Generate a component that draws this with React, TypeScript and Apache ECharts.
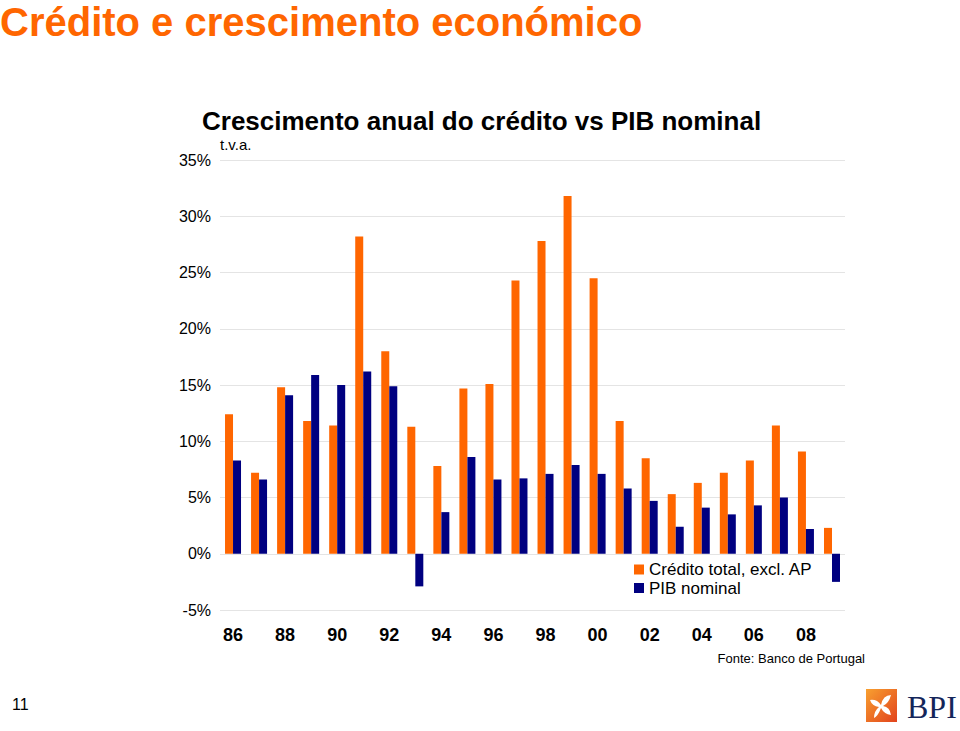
import React, { useEffect, useRef } from 'react';
import * as echarts from 'echarts';

const years = ['86', '87', '88', '89', '90', '91', '92', '93', '94', '95', '96', '97', '98', '99', '00', '01', '02', '03', '04', '05', '06', '07', '08', '09'];
const credito = [12.4, 7.2, 14.8, 11.8, 11.4, 28.2, 18.0, 11.3, 7.8, 14.7, 15.1, 24.3, 27.8, 31.8, 24.5, 11.8, 8.5, 5.3, 6.3, 7.2, 8.3, 11.4, 9.1, 2.3];
const pib = [8.3, 6.6, 14.1, 15.9, 15.0, 16.2, 14.9, -2.9, 3.7, 8.6, 6.6, 6.7, 7.1, 7.9, 7.1, 5.8, 4.7, 2.4, 4.1, 3.5, 4.3, 5.0, 2.2, -2.5];
const seriesNames = ['Crédito total, excl. AP', 'PIB nominal'];
const titleText = 'Crédito e crescimento económico';
const subtitleText = 'Crescimento anual do crédito vs PIB nominal';
const unitText = 't.v.a.';
const sourceText = 'Fonte: Banco de Portugal';
const pageText = '11';

const FLOWER =
  'M15 16 Q17 6 25 6 Q23 14 17 17 Q24 18 25 26 Q18 25 15 19 Q12 27 8 29 Q8 22 13 18 Q6 17 4 11 Q11 10 15 16 Z';

let registered = false;
function registerShapes() {
  if (registered) return;
  registered = true;
  echarts.graphic.registerShape('bpiFlower', echarts.graphic.extendPath(FLOWER, {}) as any);
}

export default function App() {
  const ref = useRef<HTMLDivElement>(null);

  useEffect(() => {
    if (!ref.current) return;
    registerShapes();
    const chart = echarts.init(ref.current, undefined, { renderer: 'svg' });
    const font = '"Liberation Sans", Arial, sans-serif';
    chart.setOption({
      animation: false,
      backgroundColor: '#ffffff',
      textStyle: { fontFamily: font },
      grid: { left: 220, right: 115, top: 160, bottom: 121 },
      legend: {
        orient: 'vertical',
        left: 634,
        top: 561,
        padding: 0,
        itemGap: 1.5,
        itemWidth: 10,
        itemHeight: 10,
        icon: 'rect',
        textStyle: { fontSize: 17, color: '#000', fontFamily: font, lineHeight: 17 },
        data: seriesNames,
      },
      xAxis: {
        type: 'category',
        data: years,
        boundaryGap: true,
        axisLine: { show: false, onZero: false },
        axisTick: { show: false },
        splitLine: { show: false },
        axisLabel: {
          interval: 1,
          fontSize: 18,
          fontWeight: 'bold',
          color: '#000',
          margin: 16,
          fontFamily: font,
        },
      },
      yAxis: {
        type: 'value',
        min: -5,
        max: 35,
        interval: 5,
        axisLine: { show: false },
        axisTick: { show: false },
        splitLine: { show: true, lineStyle: { color: '#e4e4e4', width: 1 } },
        axisLabel: {
          formatter: '{value}%',
          fontSize: 16,
          color: '#000',
          margin: 9,
          fontFamily: font,
        },
      },
      series: [
        {
          name: seriesNames[0],
          type: 'bar',
          data: credito,
          barWidth: 8,
          barGap: '0%',
          itemStyle: { color: '#FF6600' },
        },
        {
          name: seriesNames[1],
          type: 'bar',
          data: pib,
          barWidth: 8,
          barGap: '0%',
          itemStyle: { color: '#000080' },
        },
      ],
      graphic: [
        {
          type: 'text',
          left: 0,
          top: 2,
          style: {
            text: titleText,
            fontSize: 40,
            fontWeight: 'bold',
            fill: '#FF6600',
            fontFamily: font,
          },
        },
        {
          type: 'text',
          x: 202,
          y: 121,
          style: {
            text: subtitleText,
            fontSize: 26,
            fontWeight: 'bold',
            fill: '#000',
            fontFamily: font,
            verticalAlign: 'middle',
          },
        },
        {
          type: 'text',
          x: 220,
          y: 144,
          style: {
            text: unitText,
            fontSize: 15,
            fill: '#000',
            fontFamily: font,
            verticalAlign: 'middle',
          },
        },
        {
          type: 'text',
          x: 865,
          y: 658,
          style: {
            text: sourceText,
            fontSize: 13,
            fill: '#000',
            fontFamily: font,
            align: 'right',
            verticalAlign: 'middle',
          },
        },
        {
          type: 'text',
          x: 12,
          y: 704,
          style: {
            text: pageText,
            fontSize: 16,
            fill: '#000',
            fontFamily: font,
            verticalAlign: 'middle',
          },
        },
        {
          type: 'rect',
          shape: { x: 866, y: 689, width: 31, height: 33 },
          style: {
            fill: new echarts.graphic.LinearGradient(0, 0, 1, 1, [
              { offset: 0, color: '#F8A030' },
              { offset: 1, color: '#E2431C' },
            ]),
          },
        },
        {
          type: 'bpiFlower',
          x: 866,
          y: 689,
          scaleX: 1,
          scaleY: 1,
          style: { fill: '#ffffff' },
        },
        {
          type: 'text',
          x: 907,
          y: 707,
          style: {
            text: 'BPI',
            fontSize: 32,
            fill: '#14265a',
            fontFamily: '"Liberation Serif", "Times New Roman", serif',
            verticalAlign: 'middle',
          },
        },
      ],
    });
    return () => chart.dispose();
  }, []);

  return (
    <div
      ref={ref}
      style={{ position: 'fixed', left: 0, top: 0, width: 960, height: 731, background: '#fff' }}
    />
  );
}
